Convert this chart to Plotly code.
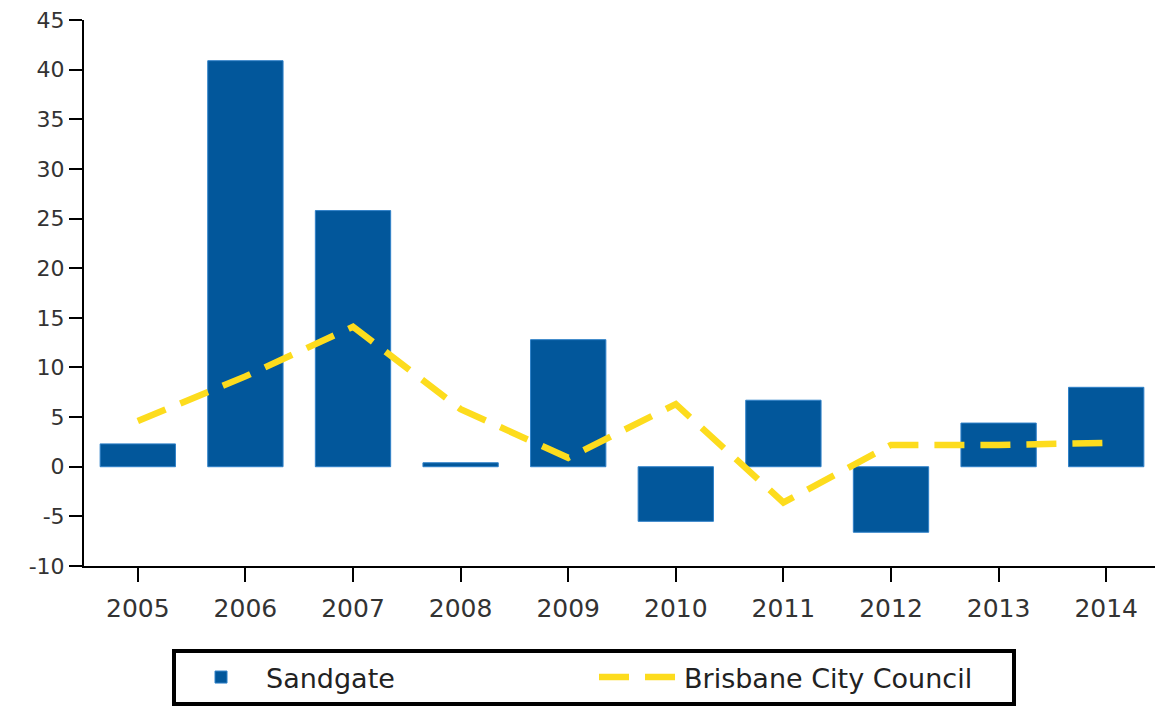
import plotly.graph_objects as go

years = ["2005", "2006", "2007", "2008", "2009", "2010", "2011", "2012", "2013", "2014"]
sandgate = [2.3, 40.9, 25.8, 0.4, 12.8, -5.5, 6.7, -6.6, 4.4, 8.0]
brisbane = [4.6, 9.1, 14.1, 5.8, 0.9, 6.3, -3.6, 2.2, 2.2, 2.4]
y_ticks = [-10, -5, 0, 5, 10, 15, 20, 25, 30, 35, 40, 45]
y_tick_labels = ["-10", "-5", "0", "5", "10", "15", "20", "25", "30", "35", "40", "45"]

fig = go.Figure()
fig.add_trace(go.Bar(
    x=years, y=sandgate, name="Sandgate",
    marker=dict(color="#02579b", line=dict(color="#2f80c8", width=1)),
))
fig.add_trace(go.Scatter(
    x=years, y=brisbane, name="Brisbane City Council", mode="lines",
    line=dict(color="#fddc1d", width=6.5, dash="30px,16px"),
))

# page body has an 8px margin, so the figure is sized and offset accordingly
fig.update_layout(
    width=1155, height=703,
    margin=dict(l=76, r=3, t=12, b=145),
    paper_bgcolor="white", plot_bgcolor="white",
    font=dict(family="DejaVu Sans", size=20, color="#333333"),
    bargap=0.3,
    showlegend=True,
    legend=dict(
        orientation="h", x=0.0818, xanchor="left", y=-0.152, yanchor="top",
        bordercolor="black", borderwidth=4, bgcolor="white",
        font=dict(family="DejaVu Sans", size=27, color="#222222"),
        entrywidth=323, itemwidth=80,
    ),
    xaxis=dict(
        automargin=False,
        showline=True, linecolor="black", linewidth=2,
        ticks="outside", ticklen=14, tickwidth=2, tickcolor="black",
        ticklabelstandoff=5,
        showgrid=False, tickfont=dict(size=25, color="#333333"),
    ),
    yaxis=dict(
        automargin=False,
        range=[-10, 45], tickvals=y_ticks, ticktext=y_tick_labels,
        ticklabeloverflow="allow",
        showline=True, linecolor="black", linewidth=2,
        ticks="outside", ticklen=13, tickwidth=2, tickcolor="black",
        showgrid=False, zeroline=False, tickfont=dict(size=22, color="#333333"),
    ),
)

fig.write_html("out.html")
